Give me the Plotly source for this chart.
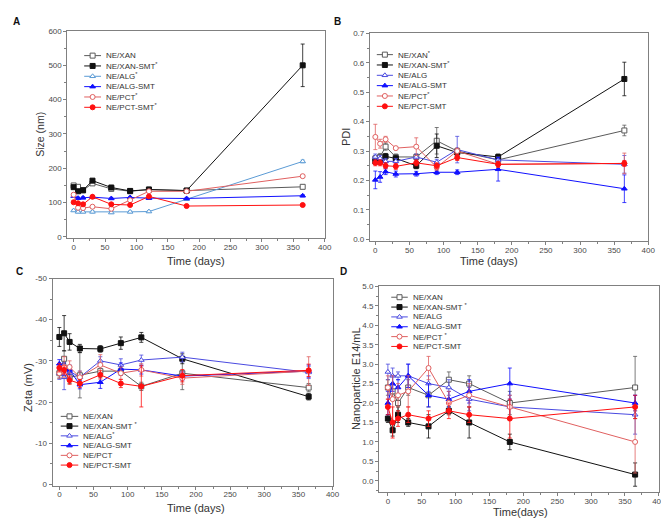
import plotly.graph_objects as go

W, H = 669, 518

# ---------------- data ----------------
days = [0, 7, 15, 30, 60, 90, 120, 180, 365]
series_names = ["NE/XAN", "NE/XAN-SMT", "NE/ALG", "NE/ALG-SMT", "NE/PCT", "NE/PCT-SMT"]

# Panel A: Size (nm)
size_xan = [150, 146, 136, 156, 140, 133, 138, 135, 146]
size_xan_smt = [145, 133, 136, 164, 144, 134, 138, 135, 500]
size_alg = [77, 73, 73, 73, 71, 73, 74, 110, 220]
size_alg_smt = [119, 113, 114, 116, 112, 115, 113, 112, 120]
size_pct = [123, 85, 84, 88, 82, 107, 133, 133, 177]
size_pct_smt = [101, 98, 95, 117, 95, 93, 118, 90, 93]
size_err_xan = [3, 3, 3, 4, 3, 3, 3, 3, 4]
size_err_xan_smt = [3, 3, 3, 4, 3, 3, 3, 3, 62]
size_err_alg = [3, 3, 3, 3, 3, 3, 3, 3, 4]
size_err_alg_smt = [3, 3, 3, 3, 3, 3, 3, 3, 3]
size_err_pct = [4, 3, 3, 3, 3, 3, 3, 3, 4]
size_err_pct_smt = [3, 3, 3, 3, 3, 3, 3, 3, 3]

# Panel B: PDI
pdi_xan = [0.275, 0.28, 0.315, 0.28, 0.28, 0.335, 0.30, 0.27, 0.37]
pdi_xan_smt = [0.265, 0.265, 0.282, 0.275, 0.25, 0.318, 0.295, 0.28, 0.545]
pdi_alg = [0.28, 0.275, 0.265, 0.265, 0.28, 0.262, 0.305, 0.27, 0.255]
pdi_alg_smt = [0.202, 0.212, 0.23, 0.222, 0.223, 0.228, 0.228, 0.238, 0.172]
pdi_pct = [0.348, 0.325, 0.34, 0.31, 0.315, 0.245, 0.30, 0.255, 0.258]
pdi_pct_smt = [0.26, 0.26, 0.25, 0.248, 0.26, 0.25, 0.278, 0.255, 0.258]
pdi_err_xan = [0.01, 0.012, 0.012, 0.01, 0.01, 0.045, 0.01, 0.01, 0.018]
pdi_err_xan_smt = [0.01, 0.01, 0.01, 0.01, 0.01, 0.04, 0.01, 0.01, 0.057]
pdi_err_alg = [0.01, 0.01, 0.01, 0.01, 0.01, 0.01, 0.045, 0.01, 0.03]
pdi_err_alg_smt = [0.03, 0.018, 0.01, 0.01, 0.008, 0.008, 0.008, 0.04, 0.047]
pdi_err_pct = [0.043, 0.015, 0.01, 0.005, 0.03, 0.01, 0.01, 0.01, 0.035]
pdi_err_pct_smt = [0.01, 0.01, 0.01, 0.01, 0.01, 0.01, 0.01, 0.01, 0.01]

# Panel C: Zeta (mV)
zeta_xan = [-27.0, -30.5, -26.0, -26.5, -27.5, -27.5, -23.8, -27.0, -23.5]
zeta_xan_smt = [-35.8, -36.7, -34.6, -33.0, -32.9, -34.3, -35.7, -30.5, -21.3]
zeta_alg = [-27.0, -26.0, -27.5, -26.0, -30.0, -29.0, -30.2, -30.9, -27.2]
zeta_alg_smt = [-29.3, -28.0, -27.8, -24.2, -24.8, -28.0, -27.8, -26.3, -27.5]
zeta_pct = [-27.0, -28.5, -28.5, -26.0, -29.0, -27.0, -27.8, -25.8, -27.5]
zeta_pct_smt = [-28.3, -27.8, -25.3, -24.5, -26.6, -24.5, -23.8, -26.4, -27.7]
zeta_err_xan = [1.2, 2.0, 1.5, 5.5, 1.5, 1.0, 1.0, 4.0, 1.0]
zeta_err_xan_smt = [2.3, 4.3, 2.0, 1.0, 0.8, 1.5, 1.2, 1.2, 0.8]
zeta_err_alg = [1.5, 3.0, 1.5, 1.5, 1.0, 1.5, 1.2, 1.2, 1.5]
zeta_err_alg_smt = [1.0, 1.5, 1.0, 1.0, 1.5, 1.5, 1.0, 1.0, 1.5]
zeta_err_pct = [1.2, 2.5, 1.5, 1.5, 2.5, 1.5, 1.5, 1.5, 3.5]
zeta_err_pct_smt = [1.0, 1.0, 1.0, 1.0, 1.0, 1.0, 5.0, 1.5, 1.5]
zeta_ticks = [0, -10, -20, -30, -40, -50]

# Panel D: Nanoparticle E14/mL
conc_xan = [2.4, 2.3, 2.0, 2.4, 2.2, 2.6, 2.5, 2.0, 2.4]
conc_xan_smt = [1.6, 1.3, 1.7, 1.5, 1.4, 1.8, 1.5, 1.0, 0.16]
conc_alg = [2.8, 2.7, 2.7, 2.7, 2.5, 2.4, 2.1, 1.9, 1.7]
conc_alg_smt = [2.0, 2.5, 2.4, 2.7, 2.2, 2.1, 2.3, 2.5, 2.0]
conc_pct = [2.4, 2.1, 2.2, 2.3, 2.9, 2.0, 2.2, 1.9, 1.0]
conc_pct_smt = [1.9, 1.5, 1.6, 1.7, 1.6, 1.8, 1.7, 1.6, 1.9]
conc_err_xan = [0.2, 0.2, 0.2, 0.2, 0.3, 0.2, 0.2, 0.3, 0.8]
conc_err_xan_smt = [0.1, 0.15, 0.2, 0.1, 0.3, 0.1, 0.4, 0.2, 0.3]
conc_err_alg = [0.2, 0.2, 0.1, 0.3, 0.2, 0.2, 0.3, 0.3, 0.5]
conc_err_alg_smt = [0.3, 0.2, 0.2, 0.3, 0.3, 0.2, 0.3, 0.4, 0.2]
conc_err_pct = [0.3, 0.6, 0.3, 0.4, 0.3, 0.3, 0.3, 0.3, 0.8]
conc_err_pct_smt = [0.2, 0.4, 0.2, 0.2, 0.2, 0.2, 0.2, 0.5, 0.3]

legend_A = ["NE/XAN", "NE/XAN-SMT<sup>*</sup>", "NE/ALG<sup>*</sup>", "NE/ALG-SMT",
            "NE/PCT<sup>*</sup>", "NE/PCT-SMT<sup>*</sup>"]
legend_B = ["NE/XAN<sup>*</sup>", "NE/XAN-SMT<sup>*</sup>", "NE/ALG", "NE/ALG-SMT",
            "NE/PCT<sup>*</sup>", "NE/PCT-SMT"]
legend_C = ["NE/XAN", "NE/XAN-SMT <sup>*</sup>", "NE/ALG<sup>*</sup>", "NE/ALG-SMT",
            "NE/PCT", "NE/PCT-SMT"]
legend_D = ["NE/XAN", "NE/XAN-SMT <sup>*</sup>", "NE/ALG", "NE/ALG-SMT",
            "NE/PCT <sup>*</sup>", "NE/PCT-SMT"]

# ---------------- styles ----------------
FONT = "Liberation Sans, Arial, sans-serif"
ALG_A = "#5b9bd5"
ALG_O = "#4a4ae0"
styles_common = [
    dict(color="#5a5a5a", symbol="square", open=True),
    dict(color="#111111", symbol="square", open=False),
    None,  # ALG (panel specific colour)
    dict(color="#1010ff", symbol="triangle-up", open=False),
    dict(color="#e06060", symbol="circle", open=True),
    dict(color="#ff1010", symbol="circle", open=False),
]


def style_for(i, panel):
    if i == 2:
        return dict(color=ALG_A if panel == "A" else ALG_O, symbol="triangle-up", open=True)
    return styles_common[i]


def pxx(x):  # pixel -> paper x
    return x / W


def pxy(y):  # pixel -> paper y
    return 1 - y / H


panels = {
    "A": dict(vals=[size_xan, size_xan_smt, size_alg, size_alg_smt, size_pct, size_pct_smt],
              errs=[size_err_xan, size_err_xan_smt, size_err_alg, size_err_alg_smt, size_err_pct, size_err_pct_smt],
              frame=(60, 320, 19.3, 229.5), xr=[-10, 400], yr=[-3, 600], ydt=100, yfmt="d",
              ytitle="Size (nm)", xtitle="Time (days)", leg=legend_A,
              ytpos=(32, 124, 10.5), xtpos=(190, 253),
              legpos=(77, 94, 97, 44.3, 10.5), letter=(9, 10)),
    "B": dict(vals=[pdi_xan, pdi_xan_smt, pdi_alg, pdi_alg_smt, pdi_pct, pdi_pct_smt],
              errs=[pdi_err_xan, pdi_err_xan_smt, pdi_err_alg, pdi_err_alg_smt, pdi_err_pct, pdi_err_pct_smt],
              frame=(365.7, 647, 21.7, 233), xr=[-8, 400], yr=[-0.007, 0.7], ydt=0.1, yfmt=".1f",
              ytitle="PDI", xtitle="Time (days)", leg=legend_B,
              ytpos=(341.5, 127, 11), xtpos=(486, 253),
              legpos=(372.7, 389, 392, 43.3, 10.5), letter=(333, 10)),
    "C": dict(vals=[zeta_xan, zeta_xan_smt, zeta_alg, zeta_alg_smt, zeta_pct, zeta_pct_smt],
              errs=[zeta_err_xan, zeta_err_xan_smt, zeta_err_alg, zeta_err_alg_smt, zeta_err_pct, zeta_err_pct_smt],
              frame=(45, 328, 270.7, 481), xr=[-10, 400], yr=[0.3, -50], ydt=10, yfmt="d",
              ytitle="Zeta (mV)", xtitle="Time (days)", leg=legend_C,
              ytpos=(20, 381, 11), xtpos=(190, 504),
              legpos=(53.3, 71, 74, 410.7, 9.9), letter=(12, 264)),
    "D": dict(vals=[conc_xan, conc_xan_smt, conc_alg, conc_alg_smt, conc_pct, conc_pct_smt],
              errs=[conc_err_xan, conc_err_xan_smt, conc_err_alg, conc_err_alg_smt, conc_err_pct, conc_err_pct_smt],
              frame=(375, 657.7, 278.7, 488), xr=[-13, 400], yr=[-0.3, 5.0], ydt=0.5, yfmt=".1f",
              ytitle="Nanoparticle E14/mL", xtitle="Time(days)", leg=legend_D,
              ytpos=(351.5, 372, 11), xtpos=(518, 508),
              legpos=(387.3, 404, 407, 289.7, 10.0), letter=(339, 264)),
}

fig = go.Figure()
layout = dict(
    width=W, height=H, margin=dict(l=0, r=0, t=0, b=0),
    paper_bgcolor="white", plot_bgcolor="rgba(0,0,0,0)", showlegend=False,
    font=dict(family=FONT, color="#333333"),
)
annotations = []

AXC = "#808080"
TICKF = dict(size=8, color="#4a4a4a")
for k, (name, p) in enumerate(panels.items(), start=1):
    xa, ya = f"x{k}", f"y{k}"
    xl, xr_, yt, yb = p["frame"]
    layout[f"xaxis{k}"] = dict(
        domain=[pxx(xl), pxx(xr_)], anchor=ya, range=p["xr"], dtick=50, tick0=0,
        showgrid=False, zeroline=False, showline=True, linecolor=AXC, linewidth=1, mirror=True,
        ticks="outside", ticklen=3, tickcolor=AXC, tickfont=TICKF, ticklabelstandoff=-2,
        minor=dict(ticks="outside", ticklen=2, dtick=25, tickcolor=AXC),
    )
    yaxis = dict(
        domain=[pxy(yb), pxy(yt)], anchor=xa, range=p["yr"], dtick=p["ydt"], tick0=0,
        tickformat=p["yfmt"],
        showgrid=False, zeroline=False, showline=True, linecolor=AXC, linewidth=1, mirror=True,
        ticks="outside", ticklen=3, tickcolor=AXC, tickfont=TICKF,
        minor=dict(ticks="outside", ticklen=2, dtick=p["ydt"] / 2, tickcolor=AXC),
    )
    if name == "C":  # plain hyphen minus signs as in the reference
        yaxis.update(tickmode="array", tickvals=zeta_ticks, ticktext=[str(v) for v in zeta_ticks])
    layout[f"yaxis{k}"] = yaxis
    for i in range(6):
        st = style_for(i, name)
        fig.add_trace(go.Scatter(
            x=days, y=p["vals"][i], xaxis=xa, yaxis=ya, mode="lines+markers",
            name=series_names[i], cliponaxis=False,
            line=dict(color=st["color"], width=1),
            marker=dict(symbol=st["symbol"], size=5,
                        color="white" if st["open"] else st["color"],
                        line=dict(color=st["color"], width=1)),
            error_y=dict(type="data", array=p["errs"][i], color=st["color"],
                         thickness=0.8, width=2),
        ))
    annotations.append(dict(x=pxx(p["letter"][0]), y=pxy(p["letter"][1]), xref="paper", yref="paper",
                            text=f"<b>{name}</b>", showarrow=False, font=dict(size=10, color="#111"),
                            xanchor="center", yanchor="middle"))
    # axis titles
    yx, yy, ys = p["ytpos"]
    annotations.append(dict(x=pxx(yx), y=pxy(yy), xref="paper", yref="paper", text=p["ytitle"],
                            textangle=-90, showarrow=False, font=dict(size=ys, color="#333"),
                            xanchor="center", yanchor="middle"))
    tx, ty = p["xtpos"]
    annotations.append(dict(x=pxx(tx), y=pxy(ty), xref="paper", yref="paper", text=p["xtitle"],
                            showarrow=False, font=dict(size=11, color="#333"),
                            xanchor="center", yanchor="middle"))

# ---- custom compact legends on a pixel overlay axis ----
LX, LY = "x5", "y5"
layout["xaxis5"] = dict(domain=[0, 1], range=[0, W], visible=False, anchor=LY, fixedrange=True)
layout["yaxis5"] = dict(domain=[0, 1], range=[H, 0], visible=False, anchor=LX, fixedrange=True)
for name, p in panels.items():
    x0, x1, xt, ry0, dy = p["legpos"]
    for i in range(6):
        st = style_for(i, name)
        ry = ry0 + i * dy
        fig.add_trace(go.Scatter(x=[x0, x1], y=[ry, ry], xaxis=LX, yaxis=LY, mode="lines",
                                 line=dict(color=st["color"], width=1), hoverinfo="skip"))
        fig.add_trace(go.Scatter(x=[(x0 + x1) / 2], y=[ry], xaxis=LX, yaxis=LY, mode="markers",
                                 marker=dict(symbol=st["symbol"], size=5,
                                             color="white" if st["open"] else st["color"],
                                             line=dict(color=st["color"], width=1)),
                                 hoverinfo="skip"))
        annotations.append(dict(x=xt, y=ry, xref=LX, yref=LY, text=p["leg"][i], showarrow=False,
                                xanchor="left", yanchor="middle",
                                font=dict(size=8, color="#333")))

layout["annotations"] = annotations
fig.update_layout(**layout)
fig.write_html("out.html")
